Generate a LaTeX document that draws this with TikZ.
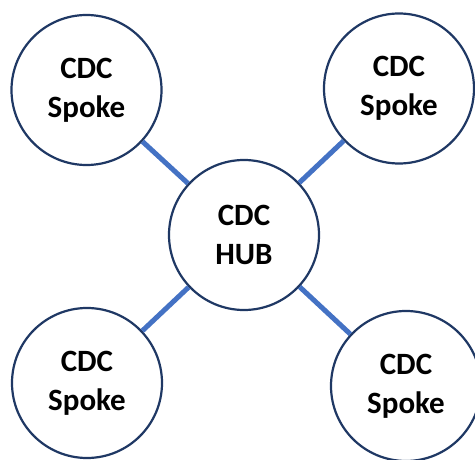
\documentclass[tikz,border=0pt]{standalone}
\usepackage{fontspec}
\setmainfont{Carlito}
\definecolor{navy}{HTML}{1F3864}
\definecolor{link}{HTML}{4472C4}
\begin{document}
\begin{tikzpicture}[x=1pt,y=-1pt,
  hubnode/.style={circle,draw=navy,line width=2.2pt,fill=white,minimum size=150pt,inner sep=0pt,
    align=center,font=\fontsize{31}{39}\selectfont\bfseries},
  spoke/.style={draw=link,line width=5pt}]
\useasboundingbox (0,0) rectangle (475,460);
\begin{scope}
\clip (0,0) rectangle (475,460);
\node[hubnode] (tl) at (86.5,90) {CDC\\Spoke};
\node[hubnode] (tr) at (399,88.5) {CDC\\Spoke};
\node[hubnode] (hub) at (244,235) {CDC\\HUB};
\node[hubnode] (bl) at (87,383) {CDC\\Spoke};
\node[hubnode] (br) at (406,386) {CDC\\Spoke};
\draw[spoke] (tl) -- (hub);
\draw[spoke] (tr) -- (hub);
\draw[spoke] (bl) -- (hub);
\draw[spoke] (br) -- (hub);
\end{scope}
\end{tikzpicture}
\end{document}
